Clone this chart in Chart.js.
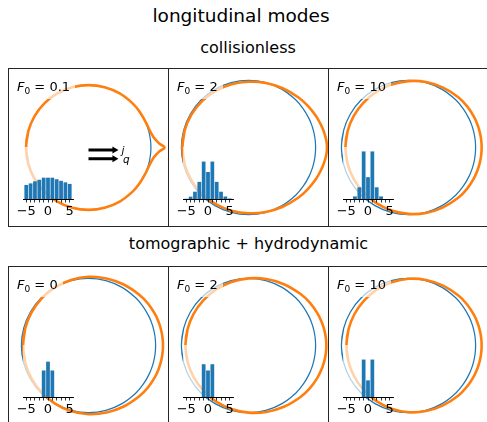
<!DOCTYPE html>
<html>
<head>
<meta charset="utf-8">
<script src="https://cdn.jsdelivr.net/npm/chart.js@4"></script>
<style>
  body { margin: 0; background: #fff; }
  #fig { position: relative; width: 487px; height: 422px; overflow: hidden; font-family: 'DejaVu Sans', sans-serif; color: #000; }
  #fig canvas { position: absolute; }
  .t { position: absolute; transform: translate(-50%, -50%); white-space: nowrap; line-height: 1; }
  .lbl { position: absolute; padding: 5px 5px 5px 6px; background: rgba(255,255,255,0.65); font-size: 13px; line-height: 15px; white-space: nowrap; }
  .lbl sub { font-size: 9px; vertical-align: -2.5px; line-height: 0; }
  .vec { position: absolute; transform: translate(0, -50%); font-size: 10.5px; font-style: italic; line-height: 1; }
</style>
</head>
<body>
<div id="fig">
  <div class="t" style="left:241px;top:16px;font-size:18.5px">longitudinal modes</div>
  <div class="t" style="left:248px;top:47.5px;font-size:16px">collisionless</div>
  <div class="t" style="left:248.5px;top:243.5px;font-size:16px">tomographic + hydrodynamic</div>
</div>
<script>
// polar angle of the sampled points (upper half, degrees); lower half is the mirror image
const thetaDeg = [0, 3, 6, 9, 13, 18, 25, 35, 45, 60, 75, 90, 105, 120, 135, 150, 165, 180];

// equilibrium Fermi surface (unit circle)
const fermiRadius = [1, 1, 1, 1, 1, 1, 1, 1, 1, 1, 1, 1, 1, 1, 1, 1, 1, 1];

// deformed Fermi surface radius at thetaDeg
const rColl01 = [1.22, 1.14, 1.09, 1.055, 1.03, 1.012, 1.003, 1.0, 1.0, 1.0, 1.0, 1.0, 1.0, 1.0, 1.0, 1.0, 1.0, 1.0];
const rColl2  = [1.17, 1.168, 1.163, 1.155, 1.145, 1.13, 1.11, 1.08, 1.055, 1.02, 0.995, 0.98, 0.975, 0.975, 0.978, 0.982, 0.985, 0.985];
const rColl10 = [1.09, 1.09, 1.089, 1.088, 1.086, 1.083, 1.078, 1.068, 1.055, 1.03, 1.01, 0.99, 0.972, 0.958, 0.948, 0.942, 0.94, 0.94];
const rTomo0  = [1.11, 1.11, 1.109, 1.108, 1.106, 1.103, 1.097, 1.085, 1.07, 1.05, 1.035, 1.025, 1.012, 1.0, 0.99, 0.982, 0.977, 0.975];
const rTomo2  = [1.16, 1.16, 1.158, 1.156, 1.152, 1.145, 1.135, 1.115, 1.09, 1.055, 1.025, 1.0, 0.98, 0.965, 0.952, 0.945, 0.94, 0.94];
const rTomo10 = [1.09, 1.09, 1.089, 1.088, 1.086, 1.083, 1.077, 1.066, 1.053, 1.03, 1.012, 0.995, 0.975, 0.958, 0.942, 0.932, 0.926, 0.925];

// inset histograms
const histBins = [-5, -4, -3, -2, -1, 0, 1, 2, 3, 4, 5];
const hColl01 = [0.27, 0.30, 0.34, 0.37, 0.41, 0.41, 0.41, 0.38, 0.35, 0.32, 0.29];
const hColl2  = [0.005, 0.045, 0.14, 0.33, 0.72, 0.52, 0.72, 0.33, 0.14, 0.048, 0.01];
const hColl10 = [0, 0, 0.05, 0.225, 0.915, 0.42, 0.915, 0.225, 0.05, 0, 0];
const hTomo0  = [0, 0, 0, 0, 0.51, 0.68, 0.51, 0, 0, 0, 0];
const hTomo2  = [0, 0, 0, 0, 0.63, 0.51, 0.63, 0, 0, 0, 0];
const hTomo10 = [0, 0, 0, 0, 0.72, 0.32, 0.72, 0, 0, 0, 0];
const histTicks = [-5, 0, 5];

const f0Labels = ['0.1', '2', '10', '0', '2', '10'];

// j and q arrows in the first panel
const arrowNames = ['j', 'q'];
const arrowX0 = [0, 0];
const arrowX1 = [0.48, 0.48];
const arrowY = [-0.04, -0.18];

const ORANGE = '#ff7f0e';
const BLUE = '#1f77b4';
Chart.defaults.font.family = "'DejaVu Sans', sans-serif";

const panels = [
  { r: rColl01, h: hColl01, lim: 1.29, arrows: true },
  { r: rColl2,  h: hColl2,  lim: 1.2 },
  { r: rColl10, h: hColl10, lim: 1.2 },
  { r: rTomo0,  h: hTomo0,  lim: 1.2 },
  { r: rTomo2,  h: hTomo2,  lim: 1.2 },
  { r: rTomo10, h: hTomo10, lim: 1.2 }
];
const colLeft = [8, 168, 328];
const rowTop = [68, 266];
const PW = 161, PH = 159;

// closed curve from the upper-half samples, padded by one point at each end so the spline closes smoothly
function closedCurve(theta, radii) {
  const n = theta.length;
  const seq = [[theta[n - 2] - 360, radii[n - 2]]];
  for (let i = n - 1; i >= 1; i--) seq.push([-theta[i], radii[i]]);
  for (let i = 0; i < n; i++) seq.push([theta[i], radii[i]]);
  seq.push([360 - theta[n - 2], radii[n - 2]]);
  return seq.map(([a, r]) => {
    const t = a * Math.PI / 180;
    return { x: r * Math.cos(t), y: r * Math.sin(t) };
  });
}

const framePlugin = {
  id: 'frame',
  afterDraw(chart) {
    const { ctx, width, height } = chart;
    ctx.save();
    ctx.strokeStyle = '#262626';
    ctx.lineWidth = 1;
    ctx.strokeRect(0.5, 0.5, width - 1, height - 1);
    ctx.restore();
  }
};

const arrowPlugin = {
  id: 'arrows',
  afterDatasetsDraw(chart, args, opts) {
    if (!opts.show) return;
    const { ctx, scales: { x, y } } = chart;
    ctx.save();
    ctx.fillStyle = '#000';
    ctx.strokeStyle = '#000';
    ctx.lineWidth = 3;
    arrowY.forEach((ay, k) => {
      const x0 = x.getPixelForValue(arrowX0[k]);
      const x1 = x.getPixelForValue(arrowX1[k]);
      const py = y.getPixelForValue(ay);
      ctx.beginPath();
      ctx.moveTo(x0, py);
      ctx.lineTo(x1 - 5, py);
      ctx.stroke();
      ctx.beginPath();
      ctx.moveTo(x1, py);
      ctx.lineTo(x1 - 6, py - 3.6);
      ctx.lineTo(x1 - 6, py + 3.6);
      ctx.closePath();
      ctx.fill();
    });
    ctx.restore();
  }
};

const insetBg = {
  id: 'insetBg',
  beforeDraw(chart) {
    const { ctx, chartArea: a } = chart;
    ctx.save();
    ctx.fillStyle = 'rgba(255,255,255,0.65)';
    ctx.fillRect(a.left, a.top, a.right - a.left, a.bottom - a.top);
    ctx.restore();
  }
};

const fig = document.getElementById('fig');

function addCanvas(left, top, w, h) {
  const c = document.createElement('canvas');
  c.width = w; c.height = h;
  c.style.left = left + 'px'; c.style.top = top + 'px';
  c.style.width = w + 'px'; c.style.height = h + 'px';
  fig.appendChild(c);
  return c;
}

panels.forEach((p, i) => {
  const left = colLeft[i % 3], top = rowTop[Math.floor(i / 3)];

  // main panel: Fermi surface and its deformation
  const main = addCanvas(left, top, PW, PH);
  const chart = new Chart(main.getContext('2d'), {
    type: 'scatter',
    data: {
      datasets: [
        { data: closedCurve(thetaDeg, p.r), showLine: true, borderColor: ORANGE, borderWidth: 2.6, pointRadius: 0, tension: 0.34, order: 0 },
        { data: closedCurve(thetaDeg, fermiRadius), showLine: true, borderColor: BLUE, borderWidth: 1.25, pointRadius: 0, tension: 0.34, order: 1 }
      ]
    },
    options: {
      responsive: false,
      animation: false,
      events: [],
      layout: { padding: 0 },
      plugins: { legend: { display: false }, tooltip: { enabled: false }, arrows: { show: !!p.arrows } },
      scales: {
        x: { type: 'linear', display: false, min: -p.lim, max: p.lim },
        y: { type: 'linear', display: false, min: -p.lim * PH / PW, max: p.lim * PH / PW }
      }
    },
    plugins: [framePlugin, arrowPlugin]
  });

  // F0 label with translucent box
  const lbl = document.createElement('div');
  lbl.className = 'lbl';
  lbl.style.left = (left + 3) + 'px';
  lbl.style.top = (top + 5.5) + 'px';
  lbl.innerHTML = '<i>F</i><sub>0</sub> = ' + f0Labels[i];
  fig.appendChild(lbl);

  if (p.arrows) {
    arrowNames.forEach((nm, k) => {
      const s = document.createElement('div');
      s.className = 'vec';
      s.textContent = nm;
      s.style.left = (left + chart.scales.x.getPixelForValue(arrowX1[k]) + 3 + k * 1.5) + 'px';
      s.style.top = (top + chart.scales.y.getPixelForValue(arrowY[k])) + 'px';
      fig.appendChild(s);
    });
  }

  // inset histogram
  const ins = addCanvas(left + 3, top + 77, 74, 76);
  new Chart(ins.getContext('2d'), {
    type: 'bar',
    data: {
      datasets: [{
        data: histBins.map((b, k) => ({ x: b, y: p.h[k] })),
        backgroundColor: BLUE,
        borderWidth: 0,
        barPercentage: 0.86,
        categoryPercentage: 1
      }]
    },
    options: {
      responsive: false,
      animation: false,
      events: [],
      layout: { padding: { left: 12, right: 12, top: 2, bottom: 2 } },
      plugins: { legend: { display: false }, tooltip: { enabled: false } },
      scales: {
        x: {
          type: 'linear', min: -5.75, max: 5.75, offset: false,
          afterFit(scale) { scale.height = 20; },
          grid: { display: true, offset: false, drawOnChartArea: false, drawTicks: true, tickLength: 3.5, color: '#000', lineWidth: 0.8 },
          border: { display: true, color: '#000', width: 1 },
          ticks: {
            stepSize: 1, includeBounds: false, autoSkip: false, maxRotation: 0, padding: 1.5,
            color: '#000', font: { size: 13 },
            callback: v => histTicks.includes(v) ? (v < 0 ? '\u2212' + Math.abs(v) : String(v)) : ''
          }
        },
        y: { type: 'linear', display: false, min: 0, max: 1 }
      }
    },
    plugins: [insetBg]
  });
});
</script>
</body>
</html>
